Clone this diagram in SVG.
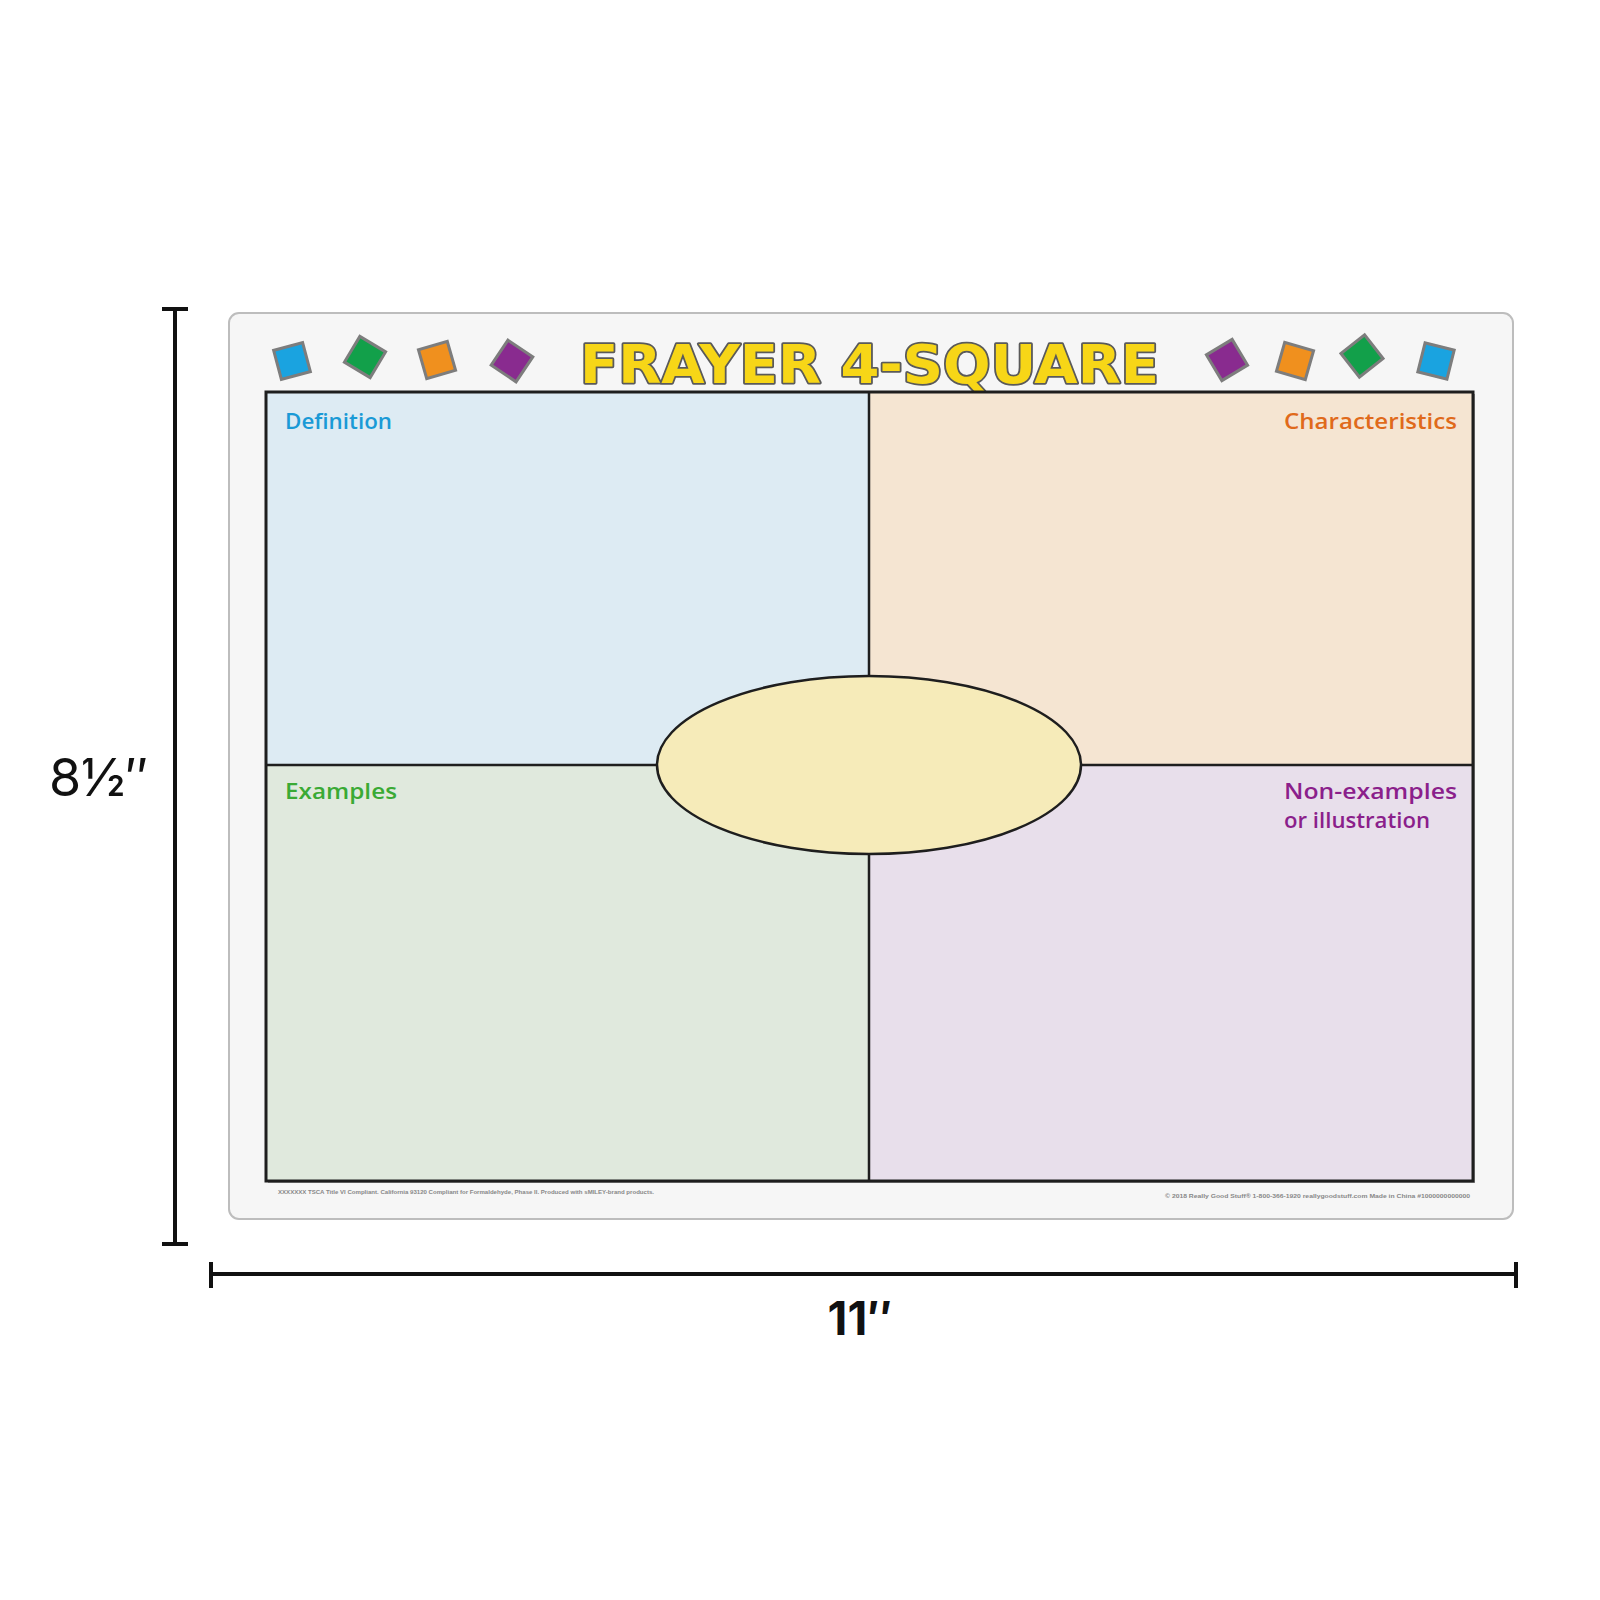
<svg xmlns="http://www.w3.org/2000/svg" width="1600" height="1600" viewBox="0 0 1600 1600">
<style>
.lbl{font-family:"Open Sans","Liberation Sans",sans-serif;font-size:22px;font-weight:600}
.sq{stroke:#7d7d7d;stroke-width:3}
.dim{stroke:#111;stroke-width:4;fill:none}
.foot{font-family:"Liberation Sans",sans-serif;font-size:6px;font-weight:bold;fill:#888}
</style>
<defs>
<rect id="s" x="-15" y="-15" width="30" height="30"/>
</defs>
<rect width="1600" height="1600" fill="#fff"/>
<g id="dimension-height">
<line class="dim" x1="175" y1="309" x2="175" y2="1244"/>
<line class="dim" x1="162" y1="309" x2="188" y2="309"/>
<line class="dim" x1="162" y1="1244" x2="188" y2="1244"/>
<text x="49" y="796" font-family="Inter,'Liberation Sans',sans-serif" font-size="52" fill="#111">8½″</text>
</g>
<g id="dimension-width">
<line class="dim" x1="211" y1="1274" x2="1516" y2="1274"/>
<line class="dim" x1="211" y1="1262" x2="211" y2="1288"/>
<line class="dim" x1="1516" y1="1262" x2="1516" y2="1288"/>
<text x="860" y="1335" text-anchor="middle" font-family="Inter,'Liberation Sans',sans-serif" font-size="46" font-weight="bold" fill="#111">11″</text>
</g>
<g id="card">
<rect x="229" y="313" width="1284" height="906" rx="10" fill="#f6f6f6" stroke="#bdbdbd" stroke-width="2"/>
</g>
<g id="decor">
<use href="#s" class="sq" fill="#1aa3e0" transform="translate(292,361) rotate(-15)"/>
<use href="#s" class="sq" fill="#12a04a" transform="translate(365,357) rotate(31)"/>
<use href="#s" class="sq" fill="#f0901e" transform="translate(437,360) rotate(-16)"/>
<use href="#s" class="sq" fill="#892b8f" transform="translate(512,361) rotate(34)"/>
<use href="#s" class="sq" fill="#892b8f" transform="translate(1227,360) rotate(-31)"/>
<use href="#s" class="sq" fill="#f0901e" transform="translate(1295,361) rotate(16)"/>
<use href="#s" class="sq" fill="#12a04a" transform="translate(1362,356) rotate(-38)"/>
<use href="#s" class="sq" fill="#1aa3e0" transform="translate(1436,361) rotate(14)"/>
</g>
<g id="title">
<text x="580" y="383" textLength="579" lengthAdjust="spacingAndGlyphs" font-family="'DejaVu Sans','Liberation Sans',sans-serif" font-size="54" font-weight="bold" fill="#f7d617" stroke="#5a5a5a" stroke-width="3.5" stroke-linejoin="round" paint-order="stroke">FRAYER 4-SQUARE</text>
</g>
<g id="quadrants">
<rect x="268" y="394" width="1207" height="789" fill="#9a9a9a"/>
<rect id="q-definition" x="266" y="392" width="603" height="373" fill="#ddebf3"/>
<rect id="q-characteristics" x="869" y="392" width="604" height="373" fill="#f5e5d2"/>
<rect id="q-examples" x="266" y="765" width="603" height="416" fill="#e0e9dd"/>
<rect id="q-nonexamples" x="869" y="765" width="604" height="416" fill="#e8dfeb"/>
<rect x="266" y="392" width="1207" height="789" fill="none" stroke="#1e1e1e" stroke-width="3"/>
<line x1="869" y1="392" x2="869" y2="1181" stroke="#1e1e1e" stroke-width="2.5"/>
<line x1="266" y1="765" x2="1473" y2="765" stroke="#1e1e1e" stroke-width="2.5"/>
</g>
<g id="center">
<ellipse cx="869" cy="765" rx="212" ry="89" fill="#f6ebb9" stroke="#1e1e1e" stroke-width="2.5"/>
</g>
<g id="labels">
<text class="lbl" x="285" y="429" textLength="107" lengthAdjust="spacingAndGlyphs" fill="#1a9ad6">Definition</text>
<text class="lbl" x="1284" y="429" textLength="173" lengthAdjust="spacingAndGlyphs" fill="#e06a1b">Characteristics</text>
<text class="lbl" x="285" y="799" textLength="112" lengthAdjust="spacingAndGlyphs" fill="#3aaa35">Examples</text>
<text class="lbl" x="1284" y="799" textLength="173" lengthAdjust="spacingAndGlyphs" fill="#8b1f8b">Non-examples</text>
<text class="lbl" x="1284" y="828" textLength="146" lengthAdjust="spacingAndGlyphs" fill="#8b1f8b">or illustration</text>
</g>
<g id="footer">
<text class="foot" x="278" y="1194" textLength="376" lengthAdjust="spacingAndGlyphs">XXXXXXX  TSCA Title VI Compliant. California 93120 Compliant for Formaldehyde, Phase II. Produced with sMILEY-brand products.</text>
<text class="foot" x="1165" y="1198" textLength="305" lengthAdjust="spacingAndGlyphs">© 2018 Really Good Stuff®  1-800-366-1920  reallygoodstuff.com  Made in China  #1000000000000</text>
</g>
</svg>
